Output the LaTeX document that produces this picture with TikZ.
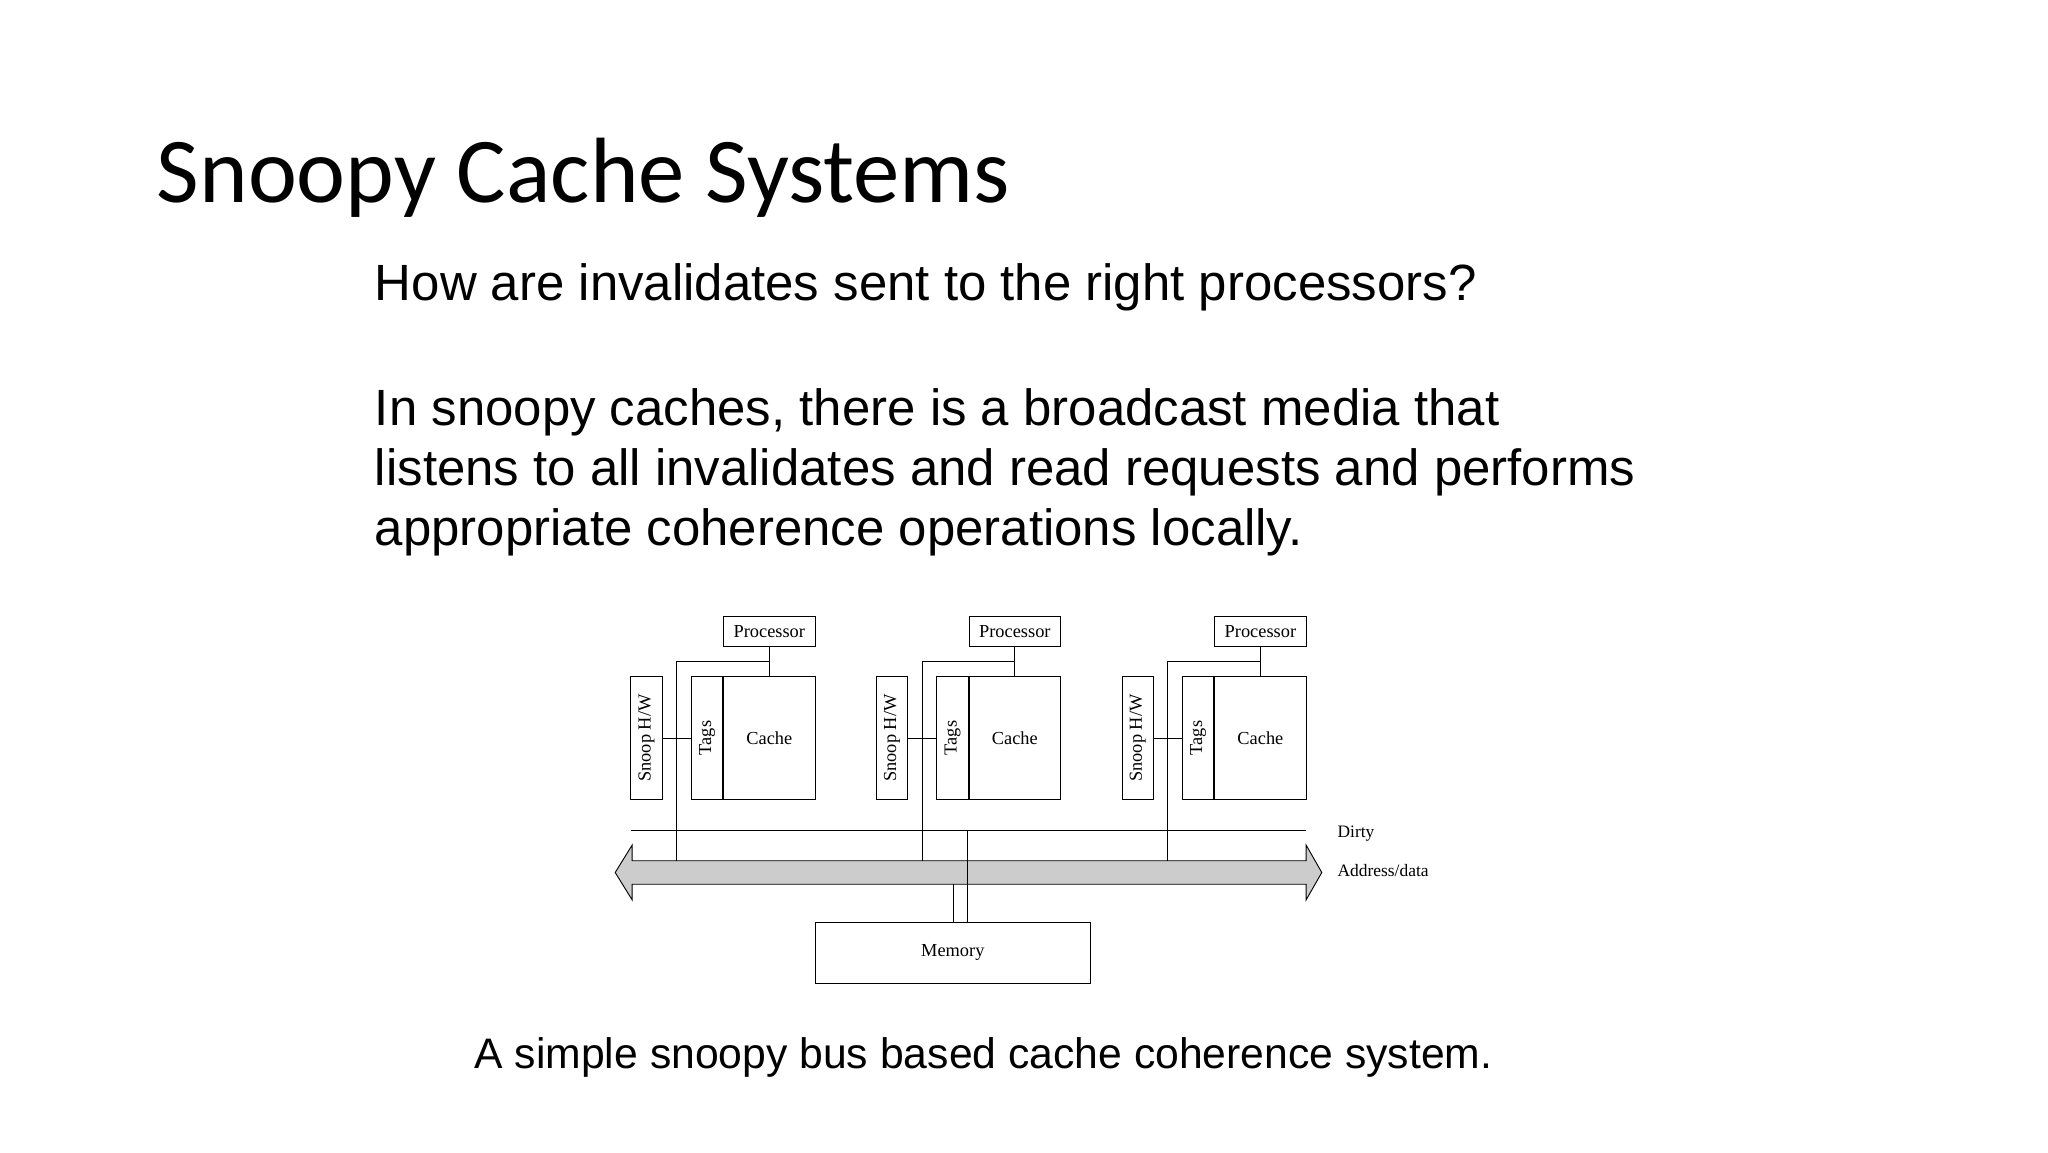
\documentclass[tikz,border=0pt]{standalone}
\usepackage{fontspec}
\setmainfont{Liberation Sans}
\newfontfamily\titlefont{Carlito}
\newfontfamily\figfont{Liberation Serif}
\usetikzlibrary{positioning, calc}

\begin{document}
\begin{tikzpicture}[
  x=0.1cm, y=-0.1cm,
  title/.style={anchor=base west, inner sep=0, font=\titlefont\fontsize{202}{240}\selectfont},
  body/.style={anchor=base west, inner sep=0, font=\fontsize{111}{131}\selectfont},
  part/.style={draw, line width=2pt, inner sep=0, font=\figfont\fontsize{40}{44}\selectfont},
  lab/.style={anchor=base west, inner sep=0, font=\figfont\fontsize{38}{44}\selectfont},
  wire/.style={line width=2pt}
]
\useasboundingbox (0,0) rectangle (1568,882);

\node[title] (T) at (120,155) {Snoopy Cache Systems};
\node[body] (Q) at (287,230) {How are invalidates sent to the right processors?};
\node[body] (P1) at (287,326) {In snoopy caches, there is a broadcast media that};
\node[body] (P2) at (287,372) {listens to all invalidates and read requests and performs};
\node[body] (P3) at (287,418) {appropriate coherence operations locally.};

% bus
\filldraw[wire, fill=gray!40] (471,668) -- (484,647) -- (484,659) -- (1000,659) -- (1000,647)
  -- (1012,668) -- (1000,689) -- (1000,677) -- (484,677) -- (484,689) -- cycle;
\coordinate (dl) at (483,636);
\coordinate (dr) at (1000,636);
\draw[wire] (dl) -- (dr);
\node[lab] (dirty) at (1024,641) {Dirty};
\node[lab] (addr) at (1024,671) {Address/data};

% memory
\node[part, minimum width=211mm, minimum height=47mm] (mem) at (729.5,729.5) {Memory};
\draw[wire] (mem.north -| 730,0) -- (730,677);
\draw[wire] (mem.north -| 741,0) -- (741,636);

% processor groups
\foreach \i/\dx in {1/0, 2/188, 3/376} {
  \node[part, minimum width=70mm, minimum height=23mm] (proc\i) at (589+\dx,483.5) {Processor};
  \node[part, minimum width=70mm, minimum height=94mm] (cache\i) at (589+\dx,565) {Cache};
  \node[part, minimum width=24mm, minimum height=94mm, anchor=east] (tags\i) at (cache\i.west) {};
  \node[font=\figfont\fontsize{40}{44}\selectfont, rotate=90, inner sep=0] at (tags\i) {Tags};
  \node[part, minimum width=24mm, minimum height=94mm] (snoop\i) at (495+\dx,565) {};
  \node[font=\figfont\fontsize{40}{44}\selectfont, rotate=90, inner sep=0] at (snoop\i) {Snoop H/W};
  \draw[wire] (proc\i.south) -- (cache\i.north);
  \draw[wire] ($(proc\i.south)!0.5!(cache\i.north)$) -| (518+\dx,659);
  \draw[wire] (snoop\i.east) -- (tags\i.west);
}

\node[body, font=\fontsize{93}{110}\selectfont, anchor=base] (cap) at (753,818) {A simple snoopy bus based cache coherence system.};
\end{tikzpicture}
\end{document}
